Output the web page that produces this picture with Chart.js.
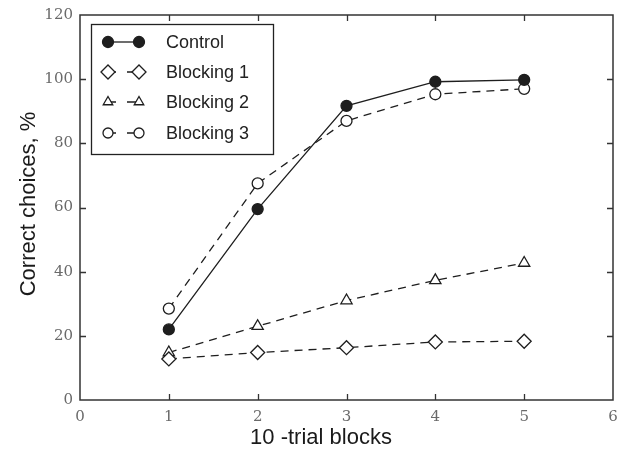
<!DOCTYPE html>
<html>
<head>
<meta charset="utf-8">
<script src="https://cdn.jsdelivr.net/npm/chart.js@4/dist/chart.umd.min.js"></script>
<style>
  html, body { margin: 0; padding: 0; background: #fff; }
  #wrap { width: 623px; height: 456px; }
</style>
</head>
<body>
<div id="wrap"><canvas id="chart" width="623" height="456"></canvas></div>
<script>
// x positions (10-trial blocks) and % correct per group
var blocks = [1, 2, 3, 4, 5];
var control = [22, 59.5, 91.7, 99.2, 99.8];
var blocking1 = [12.8, 14.8, 16.3, 18.1, 18.3];
var blocking2 = [14.8, 23, 31, 37.3, 42.7];
var blocking3 = [28.5, 67.5, 87, 95.3, 97];

var groupNames = ['Control', 'Blocking 1', 'Blocking 2', 'Blocking 3'];
var xTicks = [0, 1, 2, 3, 4, 5, 6];
var yTicks = [0, 20, 40, 60, 80, 100, 120];
var xTitle = '10 -trial blocks';
var yTitle = 'Correct choices, %';

var ink = '#1e1e1e';

function toPoints(values) {
  return values.map(function (v, i) { return {x: blocks[i], y: v}; });
}

function series(label, values, style, radius, fill, dash) {
  return {
    label: label,
    data: toPoints(values),
    borderColor: ink,
    borderWidth: 1.3,
    borderDash: dash,
    pointStyle: style,
    pointRadius: radius,
    pointBackgroundColor: fill,
    pointBorderColor: ink,
    pointBorderWidth: 1.3,
    tension: 0
  };
}

// marker shapes for the hand-drawn legend
function drawMarker(ctx, style, x, y, r, fill) {
  ctx.beginPath();
  if (style === 'circle') {
    ctx.arc(x, y, r, 0, Math.PI * 2);
  } else if (style === 'rectRot') {
    ctx.moveTo(x - r, y); ctx.lineTo(x, y - r); ctx.lineTo(x + r, y); ctx.lineTo(x, y + r);
  } else if (style === 'triangle') {
    ctx.moveTo(x, y - r);
    ctx.lineTo(x + r * Math.sin(Math.PI * 2 / 3), y - r * Math.cos(Math.PI * 2 / 3));
    ctx.lineTo(x - r * Math.sin(Math.PI * 2 / 3), y - r * Math.cos(Math.PI * 2 / 3));
  }
  ctx.closePath();
  ctx.fillStyle = fill;
  ctx.fill();
  ctx.lineWidth = 1.3;
  ctx.strokeStyle = ink;
  ctx.stroke();
}

var framePlugin = {
  id: 'frame',
  afterDraw: function (chart) {
    var ctx = chart.ctx;
    var area = chart.chartArea;
    var xs = chart.scales.x, ys = chart.scales.y;
    ctx.save();
    ctx.strokeStyle = '#333';
    ctx.lineWidth = 1.5;
    ctx.strokeRect(area.left, area.top, area.right - area.left, area.bottom - area.top);
    // inward ticks on all four sides
    ctx.lineWidth = 1.3;
    ctx.beginPath();
    xTicks.slice(1, -1).forEach(function (t) {
      var px = Math.round(xs.getPixelForValue(t)) + 0.5;
      ctx.moveTo(px, area.bottom); ctx.lineTo(px, area.bottom - 6);
      ctx.moveTo(px, area.top); ctx.lineTo(px, area.top + 6);
    });
    yTicks.slice(1, -1).forEach(function (t) {
      var py = Math.round(ys.getPixelForValue(t)) + 0.5;
      ctx.moveTo(area.left, py); ctx.lineTo(area.left + 6, py);
      ctx.moveTo(area.right, py); ctx.lineTo(area.right - 6, py);
    });
    ctx.stroke();

    // axis titles (the x title sits a little left of the plot centre)
    ctx.fillStyle = '#1a1a1a';
    ctx.font = '22px "Liberation Sans", Arial, sans-serif';
    ctx.textAlign = 'center';
    ctx.textBaseline = 'alphabetic';
    ctx.fillText(xTitle, 321, 444);
    ctx.save();
    ctx.translate(35, 204);
    ctx.rotate(-Math.PI / 2);
    ctx.fillText(yTitle, 0, 0);
    ctx.restore();

    // legend box
    var bx = 91.5, by = 24.5, bw = 182, bh = 130;
    ctx.fillStyle = '#fff';
    ctx.fillRect(bx, by, bw, bh);
    ctx.strokeStyle = '#222';
    ctx.lineWidth = 1.3;
    ctx.strokeRect(bx, by, bw, bh);
    var rowY = [42, 72, 102, 133];
    var legendSize = [5.5, 7, 5.5, 5];
    ctx.font = '18px "Liberation Sans", Arial, sans-serif';
    ctx.textAlign = 'left';
    ctx.textBaseline = 'middle';
    chart.data.datasets.forEach(function (ds, i) {
      var y = rowY[i];
      ctx.strokeStyle = ink;
      ctx.lineWidth = 1.3;
      ctx.setLineDash(ds.borderDash && ds.borderDash.length ? [8, 11, 13] : []);
      ctx.beginPath();
      ctx.moveTo(108, y); ctx.lineTo(140, y);
      ctx.stroke();
      ctx.setLineDash([]);
      var r = legendSize[i];
      drawMarker(ctx, ds.pointStyle, 108, y, r, ds.pointBackgroundColor);
      drawMarker(ctx, ds.pointStyle, 139, y, r, ds.pointBackgroundColor);
      ctx.fillStyle = '#222';
      ctx.fillText(groupNames[i], 166, y + 1);
    });
    ctx.restore();
  }
};

var tickFont = {family: '"DejaVu Serif", "Liberation Serif", serif', size: 15};

new Chart(document.getElementById('chart'), {
  type: 'line',
  data: {
    datasets: [
      series(groupNames[0], control, 'circle', 5.5, ink, []),
      series(groupNames[1], blocking1, 'rectRot', 7, '#fff', [8, 6]),
      series(groupNames[2], blocking2, 'triangle', 6.5, '#fff', [8, 6]),
      series(groupNames[3], blocking3, 'circle', 5.5, '#fff', [8, 6])
    ]
  },
  options: {
    responsive: false,
    animation: false,
    layout: {padding: {left: 0, right: 10, top: 15, bottom: 0}},
    plugins: {
      legend: {display: false},
      tooltip: {enabled: false}
    },
    scales: {
      x: {
        type: 'linear',
        min: 0,
        max: 6,
        afterBuildTicks: function (scale) {
          scale.ticks = xTicks.map(function (v) { return {value: v}; });
        },
        afterFit: function (scale) {
          scale.height = 56;
          scale.paddingLeft = 0;
          scale.paddingRight = 0;
        },
        grid: {display: false, drawTicks: false},
        border: {display: false},
        ticks: {color: '#6a6a6a', font: tickFont, padding: 8, maxRotation: 0}
      },
      y: {
        min: 0,
        max: 120,
        afterBuildTicks: function (scale) {
          scale.ticks = yTicks.map(function (v) { return {value: v}; });
        },
        afterFit: function (scale) {
          scale.width = 80;
          scale.paddingTop = 0;
          scale.paddingBottom = 0;
        },
        grid: {display: false, drawTicks: false},
        border: {display: false},
        ticks: {color: '#6a6a6a', font: tickFont, padding: 7}
      }
    }
  },
  plugins: [framePlugin]
});
</script>
</body>
</html>
